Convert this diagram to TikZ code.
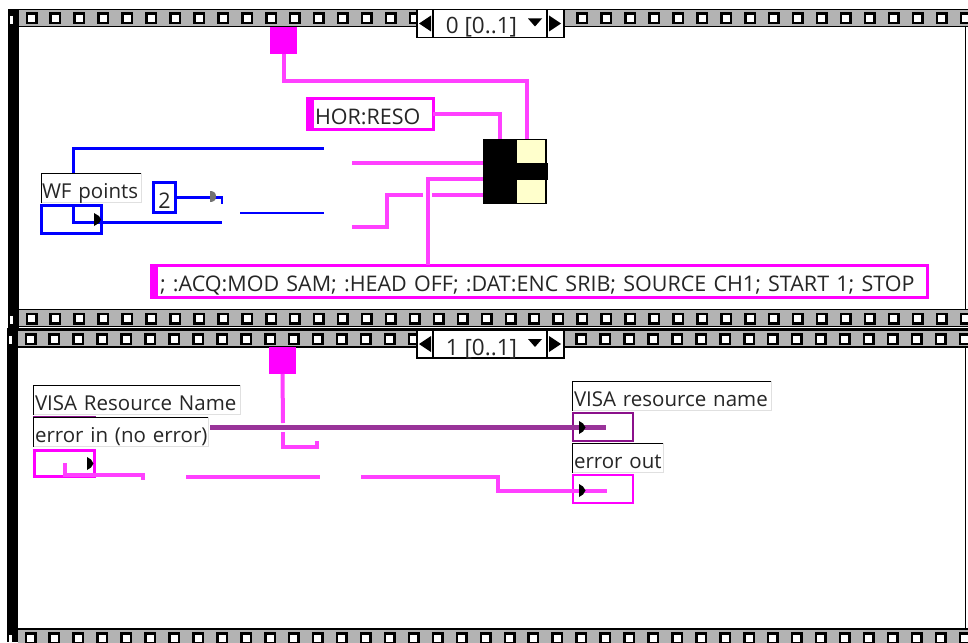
\documentclass[tikz,border=0pt]{standalone}
\usepackage{fontspec}
\setmainfont{Open Sans}
\usetikzlibrary{calc}
\definecolor{purepink}{HTML}{FF00FF}
\definecolor{wirepink}{HTML}{FF40FF}
\definecolor{wirepurple}{HTML}{993399}
\definecolor{boxpurple}{HTML}{8B108B}
\definecolor{framegray}{HTML}{B3B3B3}
\definecolor{concyellow}{HTML}{FFFFCC}
\newcommand{\lefttext}[2]{\makebox[\linewidth][l]{\hspace{#1}#2}}
\tikzset{
px/.style={x=1pt,y=-1pt},
every node/.style={outer sep=0pt,inner sep=0pt},
holebox/.style={draw=black,line width=2.5pt,fill=white,minimum width=9.5pt,minimum height=9.5pt},
notch/.style={fill=white,draw=none,minimum width=3pt,minimum height=8pt},
selbox/.style={draw=black,line width=1.2pt,fill=white,minimum height=28pt},
seltext/.style={font=\fontsize{22.5}{23}\selectfont,text=black!85,text height=16pt,text depth=0pt},
bigtext/.style={font=\fontsize{21.5}{22}\selectfont,text=black!85,text height=24pt,text depth=3pt},
lbl/.style={draw=black!12,line width=.8pt,fill=white,font=\fontsize{20.5}{22}\selectfont,text=black!85,text height=24pt,text depth=4pt,minimum height=29pt,align=left},
lblline/.style={draw=black,line width=.8pt},
ctrlblue/.style={draw=blue,line width=3pt},
ctrlpink/.style={draw=purepink,line width=3pt},
constpink/.style={draw=purepink,line width=3pt,fill=white,bigtext,align=left},
seqsquare/.style={fill=purepink,draw=none,minimum width=27pt,minimum height=27pt},
pinkwire/.style={draw=wirepink,line width=4pt},
purplewire/.style={draw=wirepurple,line width=4.5pt},
bluewire/.style={draw=blue,line width=3pt},
thinblue/.style={draw=blue,line width=2pt},
tipblack/.style={fill=black,draw=none}
}
\newcommand{\filmstrip}[3]{%
\fill[framegray] (#1,#2-9) rectangle (968,#2+8);
\draw[black,line width=1.5pt] (#1,#2-9) -- (968,#2-9);
\draw[black,line width=1.5pt] (#1,#2+8) -- (968,#2+8);
\foreach \k in {0,...,39}
  \node[holebox] (hole#3\k) at ({#1+12.5+23.95*\k},#2) {};
}
\newcommand{\selector}[4]{%
\node[selbox,minimum width=147pt,anchor=north west] (sel#3) at (417,#1) {};
\draw[black,line width=1.2pt] (433,#1) -- (433,#1+28) (547,#1) -- (547,#1+28);
\fill[black] (419,#1+14) -- (431,#1+6) -- (431,#1+22) -- cycle;
\fill[black] (561,#1+14) -- (549,#1+6) -- (549,#1+22) -- cycle;
\fill[black] (528,#1+9) -- (542,#1+9) -- (535,#1+17) -- cycle;
\node[seltext,anchor=center] (seltext#3) at (481.5,#4) {#2};
}
\begin{document}
\begin{tikzpicture}[px]
\useasboundingbox (0,0) rectangle (968,642);
\fill[white] (0,0) rectangle (968,642);
% frames
\filmstrip{19}{18.5}{a}
\filmstrip{19}{318.5}{b}
\filmstrip{18}{339}{c}
\filmstrip{18}{638}{d}
\fill[black] (8,9) rectangle (19,328);
\fill[black] (7,329) rectangle (18,642);
\draw[black,line width=1.5pt] (7,329) -- (968,329);
\node[notch] (notcha) at (11.5,20) {};
\node[notch] (notchb) at (11.5,319.5) {};
\node[notch] (notchc) at (10.5,339.5) {};
\node[notch,minimum height=7pt,anchor=north] (notchd) at (10.5,635) {};
\draw[black,line width=1.5pt] (965.5,27) -- (965.5,309);
\draw[black,line width=1.5pt] (965.5,348) -- (965.5,629);
\selector{9.5}{0 [0..1]}{a}{26}
\selector{330}{1 [0..1]}{b}{347}
% first frame
\node[seqsquare] (seqa) at (283.5,40.5) {};
\node[constpink,minimum width=126pt,minimum height=31pt,anchor=north west,text width=126pt] (reso) at (307,98) {\lefttext{8pt}{HOR:RESO}};
\fill[purepink] (308,98) rectangle (314,129);
\node[fill=black,minimum width=33pt,minimum height=65pt,anchor=north west] (conc) at (483,139) {};
\node[fill=concyellow,draw=black,line width=1.2pt,minimum width=30pt,minimum height=64pt,anchor=north west] (concy) at (516,139.5) {};
\fill[black] (516,163) rectangle (548,180);
\coordinate (concr) at (527,139);
\coordinate (concl) at (500,139);
\coordinate (seqbend) at (283.5,81);
\draw[pinkwire] (seqa.south) -- (seqbend) -| (concr);
\draw[pinkwire] (reso.east) -| (concl);
\coordinate (gapa) at (352,163);
\coordinate (gapb) at (352,227);
\coordinate (gapbend) at (387,195);
\coordinate (gapend) at (423,195);
\coordinate (gapres) at (432,195);
\draw[pinkwire] (gapa) -- (conc.west |- gapa);
\draw[pinkwire] (gapb) -| (gapbend) -- (gapend);
\draw[pinkwire] (gapres) -- (conc.west |- gapres);
\node[constpink,minimum width=776pt,minimum height=32pt,anchor=north west,text width=776pt] (cmd) at (151,265) {\lefttext{9pt}{; :ACQ:MOD SAM; :HEAD OFF; :DAT:ENC SRIB; SOURCE CH1; START 1; STOP}};
\fill[purepink] (152,266) rectangle (158,297);
\coordinate (cmdtop) at (428,265);
\coordinate (cmdbend) at (428,179);
\draw[pinkwire] (cmdtop) -- (cmdbend) -- (conc.west |- cmdbend);
% points
\node[ctrlblue,minimum width=60pt,minimum height=28pt,anchor=north west] (wfctrl) at (41.5,205.5) {};
\node[lbl,minimum width=100pt,anchor=north west,text width=100pt] (wflabel) at (41,173.5) {\lefttext{1pt}{WF points}};
\coordinate (wftop) at (73.5,173);
\coordinate (wfend) at (324,148.5);
\draw[bluewire] (wftop) |- (wfend);
\coordinate (wftap) at (73.5,206);
\coordinate (wfgap) at (222,222);
\draw[bluewire] (wftap) |- (wfgap);
\node[ctrlblue,minimum width=22pt,minimum height=30pt,anchor=north west,bigtext] (two) at (153.5,182.5) {2};
\coordinate (twoend) at (222,204);
\draw[thinblue,line width=2.5pt] (two.east) -| (twoend);
\fill[black!55] (210,191) .. controls (214,191) and (216,193) .. (216,196.5) .. controls (216,200) and (214,202) .. (210,202) -- cycle;
\coordinate (thina) at (240,212.5);
\coordinate (thinb) at (324,212.5);
\draw[thinblue] (thina) -- (thinb);
\fill[tipblack] (94,213) -- (99,216) -- (101,219.5) -- (99,223) -- (94,226) -- cycle;
% second frame
\node[seqsquare] (seqb) at (282.5,360.5) {};
\coordinate (seqgap) at (283,423);
\draw[pinkwire] (seqb.south) -- (seqgap);
\coordinate (stuba) at (283,432);
\coordinate (stubb) at (283,447);
\coordinate (stubc) at (317,441);
\draw[pinkwire] (stuba) -- (stubb) -| (stubc);
\node[lbl,minimum width=207pt,anchor=north west,text width=207pt] (visain) at (33,385.5) {\lefttext{2pt}{VISA Resource Name}};
\draw[boxpurple,line width=1.5pt] (33,416.5) -- (96,416.5);
\node[lbl,minimum width=175pt,anchor=north west,text width=175pt] (errin) at (33,417.5) {\lefttext{2pt}{error in (no error)}};
\node[ctrlpink,minimum width=60pt,minimum height=26pt,anchor=north west] (errbox) at (34.5,450.5) {};
\node[ctrlpink,draw=boxpurple,line width=2pt,minimum width=60pt,minimum height=28pt,anchor=north west] (visabox) at (573,413) {};
\node[ctrlpink,line width=2pt,minimum width=60pt,minimum height=28pt,anchor=north west] (errbox2) at (573,475) {};
\node[lbl,minimum width=199pt,anchor=north west,text width=199pt] (visaout) at (572,381.5) {\lefttext{2pt}{VISA resource name}};
\node[lbl,minimum width=91pt,anchor=north west,text width=91pt] (errout) at (572,443.5) {\lefttext{2pt}{error out}};
\foreach \n in {wflabel,visain,errin,visaout,errout}
  \draw[lblline] (\n.south west) |- (\n.north east);
\coordinate (purplea) at (210,427.5);
\coordinate (purpleb) at (606,427.5);
\draw[purplewire] (purplea) -- (purpleb);
\coordinate (erra) at (65,463);
\coordinate (errb) at (143,474.5);
\coordinate (errc) at (143,480);
\draw[pinkwire] (erra) |- (errb) -- (errc);
\coordinate (mida) at (186,477);
\coordinate (midb) at (320,477);
\draw[pinkwire] (mida) -- (midb);
\coordinate (lasta) at (361,477);
\coordinate (lastb) at (498,477);
\coordinate (lastc) at (607,491);
\draw[pinkwire] (lasta) -- (lastb) |- (lastc);
\foreach \tx/\ty in {87/463.5,579/427.5,579/490.5}
  \fill[tipblack] (\tx,\ty-6.5) -- (\tx+4,\ty-4) -- (\tx+6.5,\ty) -- (\tx+4,\ty+4) -- (\tx,\ty+6.5) -- cycle;
\end{tikzpicture}
\end{document}
